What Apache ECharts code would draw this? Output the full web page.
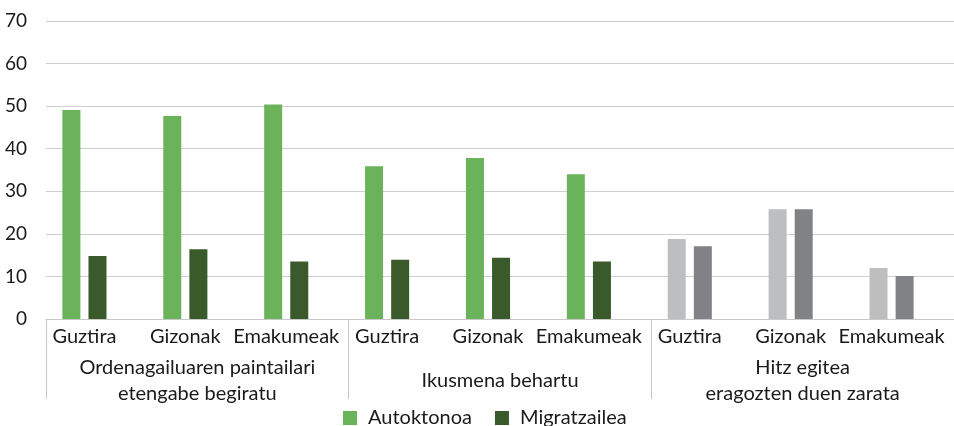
<!DOCTYPE html>
<html><head><meta charset="utf-8">
<script src="https://cdn.jsdelivr.net/npm/echarts@6/dist/echarts.min.js"></script>
<style>html,body{margin:0;padding:0;background:#fff}#c{width:954px;height:426px}</style>
</head><body><div id="c"></div>
<script>
const categories = ['Guztira','Gizonak','Emakumeak','Guztira','Gizonak','Emakumeak','Guztira','Gizonak','Emakumeak'];
const groups = ['Ordenagailuaren paintailari\netengabe begiratu','Ikusmena behartu','Hitz egitea\neragozten duen zarata'];
const seriesNames = ['Autoktonoa','Migratzailea'];
const autoktonoa = [49.1,47.7,50.4,35.9,37.8,34.0,18.8,25.8,12.0];
const migratzailea = [14.8,16.4,13.5,13.9,14.4,13.5,17.1,25.8,10.1];
const yMin = 0, yMax = 70, yStep = 10;

const greenColors = ['#6ab35a','#3a5a2b'];
const grayColors = ['#bdbec0','#818286'];
const grayGroupStart = 6;
const FONT = 'Lato';
const TXT = '#1a1a1a';

function build(values, si){
  return values.map((v,i)=> i >= grayGroupStart ? {value:v, itemStyle:{color:grayColors[si]}} : v);
}

const chart = echarts.init(document.getElementById('c'), null, {renderer:'canvas'});
chart.setOption({
  animation:false,
  textStyle:{fontFamily:FONT},
  grid:[
    {left:34, right:12, top:21, bottom:107},
    {left:46, right:0, top:21, bottom:107}
  ],
  legend:{
    data:seriesNames, left:343, top:408, padding:0, icon:'rect', itemWidth:14, itemHeight:14, itemGap:23,
    textStyle:{fontFamily:FONT, fontSize:20, color:TXT, padding:[0,0,0,6]}
  },
  xAxis:[
    {type:'category', gridIndex:0, data:categories, axisLine:{show:false}, axisTick:{show:false},
     axisLabel:{fontFamily:FONT, fontSize:20, color:TXT, margin:8, interval:0}},
    {type:'category', gridIndex:1, data:groups, position:'bottom',
     axisLine:{show:true, lineStyle:{color:'#c8c8c8', width:1}},
     axisTick:{show:true, length:80, lineStyle:{color:'#c8c8c8', width:1}},
     axisLabel:{fontFamily:FONT, fontSize:20, color:TXT, margin:62, lineHeight:26, verticalAlign:'middle', interval:0}}
  ],
  yAxis:[
    {type:'value', gridIndex:0, min:yMin, max:yMax, interval:yStep, show:false, splitLine:{show:false}},
    {type:'value', gridIndex:1, min:yMin, max:yMax, interval:yStep,
     axisLine:{show:false}, axisTick:{show:false},
     axisLabel:{fontFamily:FONT, fontSize:19, color:TXT, margin:19},
     splitLine:{lineStyle:{color:'#cfcfcf', width:1}}}
  ],
  series:[
    {name:seriesNames[0], type:'bar', xAxisIndex:0, yAxisIndex:0, data:build(autoktonoa,0),
     itemStyle:{color:greenColors[0]}, barWidth:18, barGap:'45%'},
    {name:seriesNames[1], type:'bar', xAxisIndex:0, yAxisIndex:0, data:build(migratzailea,1),
     itemStyle:{color:greenColors[1]}, barWidth:18, barGap:'45%'}
  ]
});
</script></body></html>
